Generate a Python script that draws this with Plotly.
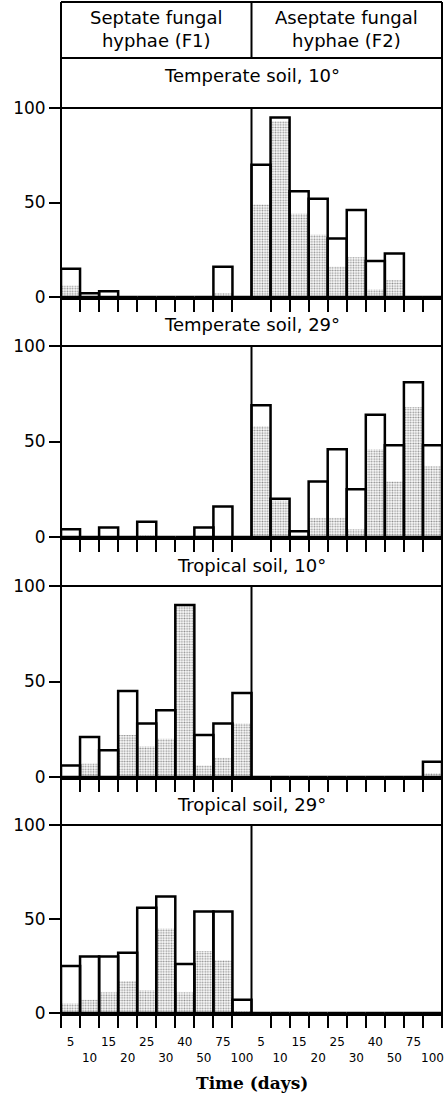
import plotly.graph_objects as go

W, H = 444, 1095

# ---------------- data ----------------
day_labels = ["5", "10", "15", "20", "25", "30", "40", "50", "75", "100"]
panel_titles = ["Temperate soil, 10°", "Temperate soil, 29°",
                "Tropical soil, 10°", "Tropical soil, 29°"]
group_titles = ["Septate fungal<br>hyphae (F1)", "Aseptate fungal<br>hyphae (F2)"]

# total (outlined bar) and stippled portion, % values
temp10_f1_total = [15, 2, 3, 0, 0, 0, 0, 0, 16, 0]
temp10_f1_stip  = [6, 0, 0, 0, 0, 0, 0, 0, 2, 0]
temp10_f2_total = [70, 95, 56, 52, 31, 46, 19, 23, 0, 0]
temp10_f2_stip  = [49, 93, 44, 33, 16, 21, 4, 9, 0, 0]

temp29_f1_total = [4, 0, 5, 0, 8, 0, 0, 5, 16, 0]
temp29_f1_stip  = [0, 0, 0, 0, 1, 0, 0, 0, 0, 0]
temp29_f2_total = [69, 20, 3, 29, 46, 25, 64, 48, 81, 48]
temp29_f2_stip  = [58, 19, 0, 10, 10, 4, 46, 29, 68, 37]

trop10_f1_total = [6, 21, 14, 45, 28, 35, 90, 22, 28, 44]
trop10_f1_stip  = [0, 7, 0, 22, 16, 20, 90, 6, 10, 28]
trop10_f2_total = [0, 0, 0, 0, 0, 0, 0, 0, 0, 8]
trop10_f2_stip  = [0, 0, 0, 0, 0, 0, 0, 0, 0, 2]

trop29_f1_total = [25, 30, 30, 32, 56, 62, 26, 54, 54, 7]
trop29_f1_stip  = [5, 7, 11, 17, 12, 45, 11, 33, 28, 1]
trop29_f2_total = [0, 0, 0, 0, 0, 0, 0, 0, 0, 0]
trop29_f2_stip  = [0, 0, 0, 0, 0, 0, 0, 0, 0, 0]

panels = [
    (temp10_f1_total, temp10_f1_stip, temp10_f2_total, temp10_f2_stip),
    (temp29_f1_total, temp29_f1_stip, temp29_f2_total, temp29_f2_stip),
    (trop10_f1_total, trop10_f1_stip, trop10_f2_total, trop10_f2_stip),
    (trop29_f1_total, trop29_f1_stip, trop29_f2_total, trop29_f2_stip),
]

# ---------------- geometry (pixels from top) ----------------
zero_px = [297, 537, 777, 1013]
top_px = [108, 346, 586, 825]
band_text_px = [76, 325, 565, 804]


def py(p):
    return 1 - p / H


centers = [i + 0.5 for i in range(20)]
ticktext = [("<br>" + t) if k % 2 else t for k, t in enumerate(day_labels)] * 2

fig = go.Figure()
FONT = "DejaVu Sans"

for i, (f1t, f1s, f2t, f2s) in enumerate(panels):
    n = "" if i == 0 else str(i + 1)
    fig.add_trace(go.Bar(
        x=centers, y=f1s + f2s, width=1, xaxis="x" + n, yaxis="y" + n,
        marker=dict(color="white", line=dict(width=0),
                    pattern=dict(shape=".", fgcolor="#222222", bgcolor="white",
                                 size=2.6, solidity=0.38)),
        showlegend=False, hoverinfo="skip"))
    fig.add_trace(go.Bar(
        x=centers, y=f1t + f2t, width=1, xaxis="x" + n, yaxis="y" + n,
        marker=dict(color="rgba(0,0,0,0)", line=dict(width=2.5, color="black")),
        showlegend=False, hoverinfo="skip"))

layout = dict(
    width=W, height=H, barmode="overlay",
    margin=dict(l=61, r=2, t=0, b=0, autoexpand=False),
    paper_bgcolor="white", plot_bgcolor="white",
    showlegend=False,
)

minor_vals = [k for k in range(21) if k != 10]
for i in range(4):
    n = "" if i == 0 else str(i + 1)
    xa = dict(
        range=[0, 20], anchor="y" + n, showgrid=False, zeroline=False,
        showline=True, linecolor="black", linewidth=3, automargin=False,
        ticks="", tickmode="array", tickvals=centers, tickangle=0,
        ticktext=ticktext if i == 3 else [""] * 20,
        showticklabels=(i == 3), ticklabelstandoff=16,
        tickfont=dict(family=FONT, size=12, color="black"),
        minor=dict(tickmode="array", tickvals=minor_vals, ticks="outside",
                   ticklen=12, tickwidth=2, tickcolor="black", showgrid=False),
        fixedrange=True,
    )
    ya = dict(
        range=[0, 100], domain=[py(zero_px[i]), py(top_px[i])],
        anchor="x" + n, showgrid=False, zeroline=False, showline=False,
        automargin=False,
        tickmode="array", tickvals=[0, 50, 100], ticks="outside",
        ticklen=11, tickwidth=2, tickcolor="black",
        tickfont=dict(family=FONT, size=17, color="black"),
        fixedrange=True,
    )
    layout["xaxis" + n] = xa
    layout["yaxis" + n] = ya

fig.update_layout(**layout)

shapes = []
LW = 2


def line(x0, y0, x1, y1, w=LW):
    shapes.append(dict(type="line", xref="paper", yref="paper",
                       x0=x0, y0=y0, x1=x1, y1=y1,
                       line=dict(color="black", width=w)))


line(0, py(1025), 0, py(2))
line(1, py(1025), 1, py(2))
line(0, py(2), 1, py(2))
line(0, py(58), 1, py(58))
line(0.5, py(58), 0.5, py(2))
for i in range(4):
    line(0, py(top_px[i]), 1, py(top_px[i]))
    line(0.5, py(zero_px[i]), 0.5, py(top_px[i]))

annotations = []
for i, t in enumerate(panel_titles):
    annotations.append(dict(text=t, xref="paper", yref="paper", x=0.5,
                            y=py(band_text_px[i]), showarrow=False,
                            xanchor="center", yanchor="middle",
                            font=dict(family=FONT, size=18, color="black")))
for k, t in enumerate(group_titles):
    annotations.append(dict(text=t, xref="paper", yref="paper",
                            x=0.25 + 0.5 * k, y=py(29), showarrow=False,
                            xanchor="center", yanchor="middle",
                            font=dict(family=FONT, size=18, color="black")))
annotations.append(dict(text="<b>Time (days)</b>", xref="paper", yref="paper",
                        x=0.5, y=py(1083), showarrow=False,
                        xanchor="center", yanchor="middle",
                        font=dict(family="DejaVu Serif", size=17, color="black")))

fig.update_layout(shapes=shapes, annotations=annotations)
fig.write_html("out.html",
               config={"displayModeBar": False, "staticPlot": True},
               post_script="document.body.style.margin='0';"
                           "document.body.style.padding='0';")
